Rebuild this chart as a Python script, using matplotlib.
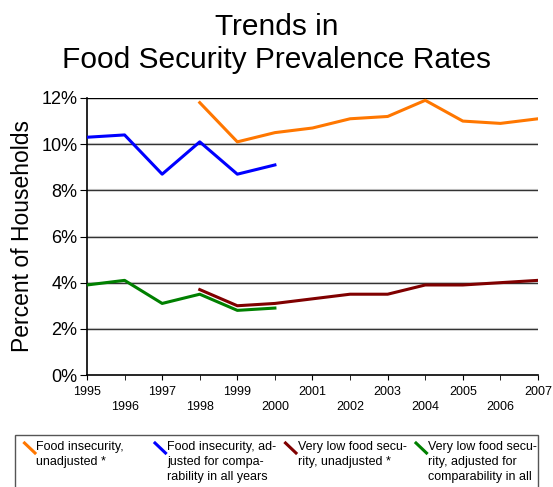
import matplotlib
matplotlib.use('Agg')
import matplotlib.pyplot as plt
from matplotlib.lines import Line2D
from matplotlib.patches import Rectangle

plt.rcParams['font.family'] = ['Liberation Sans', 'DejaVu Sans']

years_adj = list(range(1995, 2001))
years_unadj = list(range(1998, 2008))

fi_unadj = [11.8, 10.1, 10.5, 10.7, 11.1, 11.2, 11.9, 11.0, 10.9, 11.1]
fi_adj = [10.3, 10.4, 8.7, 10.1, 8.7, 9.1]
vlfs_unadj = [3.7, 3.0, 3.1, 3.3, 3.5, 3.5, 3.9, 3.9, 4.0, 4.1]
vlfs_adj = [3.9, 4.1, 3.1, 3.5, 2.8, 2.9]

labels = ['Food insecurity,\nunadjusted *',
          'Food insecurity, ad-\njusted for compa-\nrability in all years',
          'Very low food secu-\nrity, unadjusted *',
          'Very low food secu-\nrity, adjusted for\ncomparability in all']
colors = ['#ff7700', '#0000ff', '#800000', '#008000']

W, H = 553, 487
fig = plt.figure(figsize=(W / 100, H / 100), dpi=100)
ax = fig.add_axes([87 / W, 1 - 375 / H, 451 / W, 277 / H])

for y in [2, 4, 6, 8, 10, 12]:
  ax.axhline(y, color='#dddddd', lw=1.6, zorder=0.5)
  ax.axhline(y, color='#333333' if y < 12 else 'black', lw=1, zorder=1)

ax.plot(years_unadj, fi_unadj, color=colors[0], lw=2.2, zorder=3)
ax.plot(years_adj, fi_adj, color=colors[1], lw=2.2, zorder=3)
ax.plot(years_unadj, vlfs_unadj, color=colors[2], lw=2.2, zorder=3)
ax.plot(years_adj, vlfs_adj, color=colors[3], lw=2.2, zorder=3)

ax.set_xlim(1995, 2007)
ax.set_ylim(0, 12)
ax.set_yticks([0, 2, 4, 6, 8, 10, 12])
ax.set_yticklabels([f'{v}%' for v in [0, 2, 4, 6, 8, 10, 12]], fontsize=13)
ax.set_xticks(list(range(1995, 2008, 2)))
ax.set_xticks(list(range(1996, 2007, 2)), minor=True)
ax.set_xticklabels([str(y) for y in range(1995, 2008, 2)], fontsize=9)
ax.set_xticklabels([str(y) for y in range(1996, 2007, 2)], minor=True, fontsize=9)
ax.tick_params(axis='x', which='major', length=3.5, pad=4.5)
ax.tick_params(axis='x', which='minor', length=3.5, pad=15)
ax.tick_params(axis='y', length=5, pad=2)

for s in ['top', 'right']:
  ax.spines[s].set_visible(False)
ax.spines['left'].set_linewidth(1.2)
ax.spines['bottom'].set_linewidth(1.2)

ax.set_ylabel('Percent of Households', fontsize=16.5, labelpad=5)

fig.text(0.5, 1 - 35 / H, 'Trends in', ha='center', va='baseline', fontsize=21.5)
fig.text(0.5, 1 - 68 / H, 'Food Security Prevalence Rates', ha='center',
         va='baseline', fontsize=21.5)

# legend drawn by hand: box runs off the bottom edge like the original
fig.patches.append(Rectangle((15 / W, -0.01), 523 / W, 1.01 - 435 / H,
                             transform=fig.transFigure, fill=False,
                             edgecolor='#555555', lw=1.0))
text_x = [36.5, 167, 297.5, 428]
for i, (lab, c) in enumerate(zip(labels, colors)):
  x0 = text_x[i]
  fig.lines.append(Line2D([(x0 - 12) / W, (x0 - 1.5) / W], [1 - 443 / H, 1 - 453 / H],
                          transform=fig.transFigure, color=c, lw=2.2))
  for k, line in enumerate(lab.split('\n')):
    fig.text(x0 / W, 1 - (450 + 15 * k) / H, line, ha='left',
             va='baseline', fontsize=9)

fig.savefig('out.png', dpi=100)
